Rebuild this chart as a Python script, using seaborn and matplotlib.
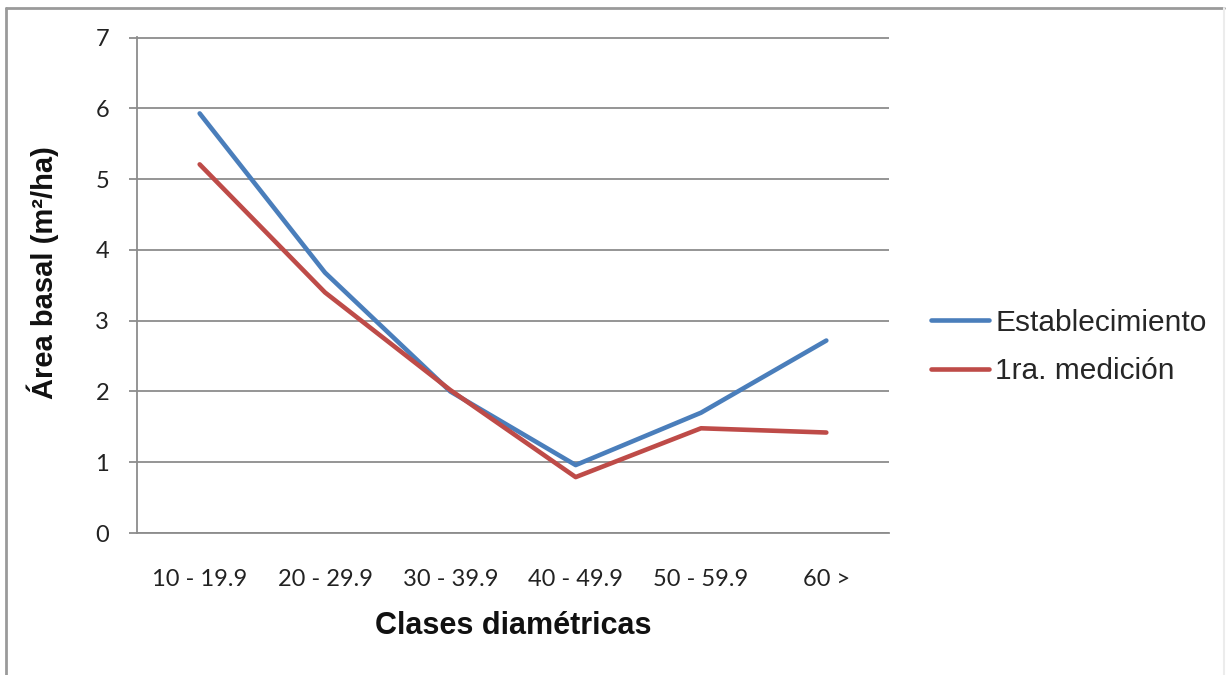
import numpy as np
import pandas as pd
import matplotlib
matplotlib.use("Agg")
import matplotlib.pyplot as plt
from matplotlib.lines import Line2D
import seaborn as sns

# Basal area per diameter class (m²/ha)
clases = ["10 - 19.9", "20 - 29.9", "30 - 39.9", "40 - 49.9", "50 - 59.9", "60 >"]
establecimiento = [5.93, 3.68, 2.00, 0.96, 1.70, 2.72]
primera_medicion = [5.21, 3.40, 2.02, 0.79, 1.48, 1.42]
series_names = ["Establecimiento", "1ra. medición"]
y_ticks = [0, 1, 2, 3, 4, 5, 6, 7]

df = pd.DataFrame({
    "clase": clases * 2,
    "pos": list(range(len(clases))) * 2,
    "valor": establecimiento + primera_medicion,
    "serie": [series_names[0]] * len(clases) + [series_names[1]] * len(clases),
})

sns.set_theme(style="white")
plt.rcParams["font.family"] = ["Liberation Sans", "DejaVu Sans"]

W, H = 1229, 675
fig = plt.figure(figsize=(W / 100, H / 100), dpi=100)
fig.patch.set_facecolor("white")

# plot area in pixel coordinates
left, right, top, bottom = 137, 889, 37, 533
ax = fig.add_axes([left / W, 1 - bottom / H, (right - left) / W, (bottom - top) / H])

palette = {series_names[0]: "#4a7ebb", series_names[1]: "#be4b48"}
sns.lineplot(data=df, x="pos", y="valor", hue="serie", palette=palette,
             linewidth=3.3, sort=False, ax=ax, legend=True)
for ln in ax.get_lines():
    ln.set_solid_capstyle("round")
    ln.set_solid_joinstyle("round")

grid_color = "#8c8c8c"
ax.set_xlim(-0.5, len(clases) - 0.5)
ax.set_ylim(0, 7.01)
ax.set_yticks(y_ticks)
ax.set_yticklabels([str(v) for v in y_ticks], fontfamily="Lato", fontsize=17, color="#222222")
ax.yaxis.grid(True, color=grid_color, linewidth=1.3)
ax.xaxis.grid(False)

ax.set_xticks(range(len(clases)))
ax.set_xticklabels(clases, fontfamily="Lato", fontsize=17, color="#222222")
ax.set_xticks(np.arange(-0.5, len(clases), 1.0), minor=True)
ax.tick_params(axis="x", which="major", length=0, pad=26)
ax.tick_params(axis="x", which="minor", length=6, width=1.3, color=grid_color, direction="out")
ax.tick_params(axis="y", which="major", length=6, width=1.3, color=grid_color,
               direction="out", pad=14, left=True)

for side in ["top", "right"]:
    ax.spines[side].set_visible(False)
for side in ["left", "bottom"]:
    ax.spines[side].set_visible(True)
    ax.spines[side].set_color(grid_color)
    ax.spines[side].set_linewidth(1.3)

ax.set_xlabel("Clases diamétricas", fontsize=22, fontweight="bold", color="#111111")
ax.xaxis.set_label_coords(0.5, -0.158)
ax.set_ylabel("Área basal (m²/ha)", fontsize=21, fontweight="bold", color="#111111")
ax.yaxis.set_label_coords(-0.104, 0.525)

handles, labels = ax.get_legend_handles_labels()
ax.legend_.remove()
fig.legend(handles, labels, loc="center left",
           bbox_to_anchor=(919 / W, 1 - 347 / H), frameon=False,
           fontsize=21.5, handlelength=1.95, handletextpad=0.2,
           labelspacing=0.7, borderaxespad=0)

# outer chart frame
fig.add_artist(Line2D([5.5 / W, 5.5 / W], [0, 1 - 8 / H], transform=fig.transFigure,
                      color="#9a9a9a", linewidth=2))
fig.add_artist(Line2D([5.5 / W, 1224 / W], [1 - 8 / H, 1 - 8 / H], transform=fig.transFigure,
                      color="#9a9a9a", linewidth=2))
fig.add_artist(Line2D([1224 / W, 1224 / W], [0, 1 - 8 / H], transform=fig.transFigure,
                      color="#ececec", linewidth=1.5))

fig.savefig("out.png", dpi=100, facecolor="white")
